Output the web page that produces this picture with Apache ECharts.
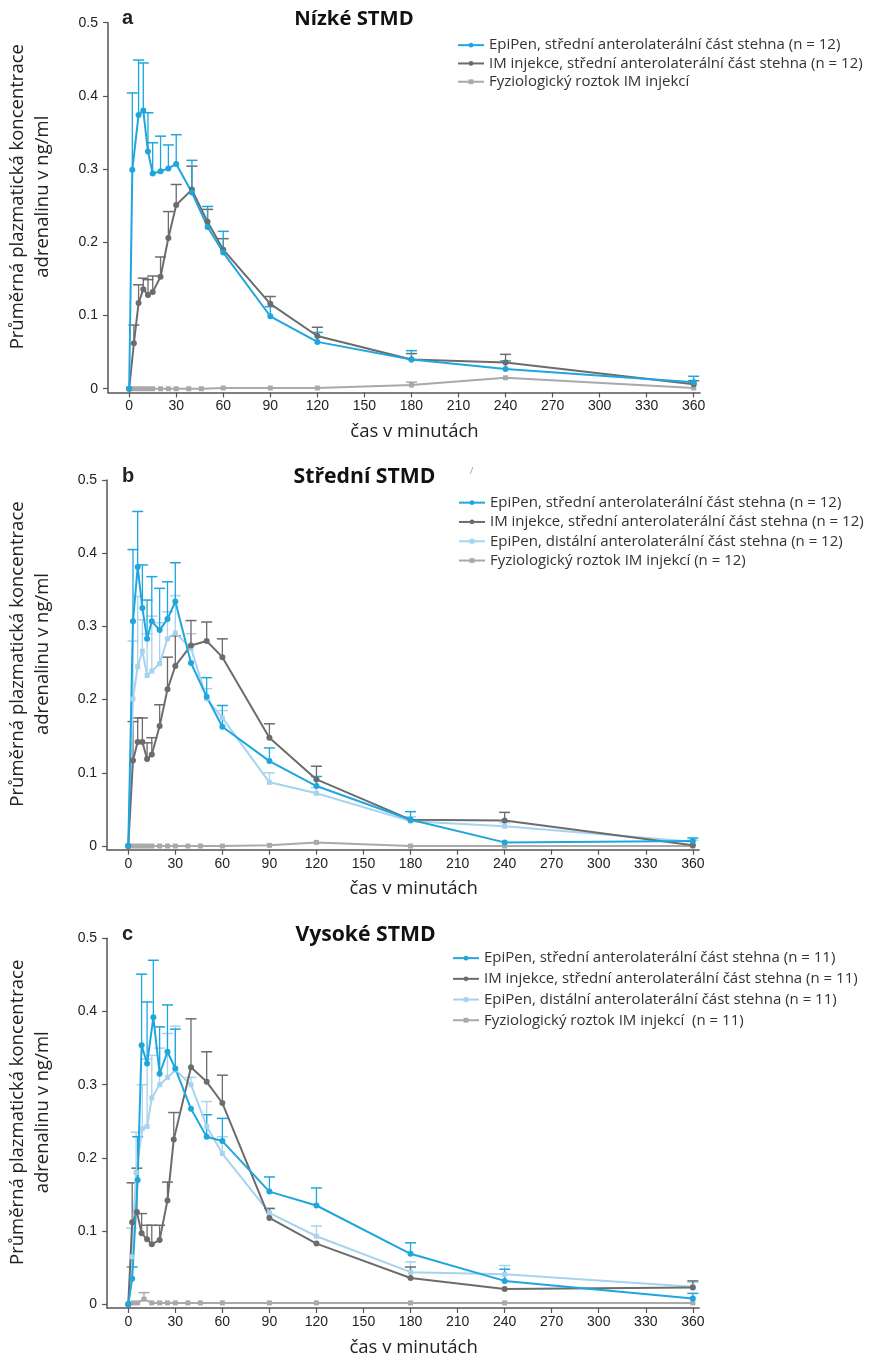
<!DOCTYPE html>
<html>
<head>
<meta charset="utf-8">
<script src="https://cdn.jsdelivr.net/npm/echarts@6/dist/echarts.min.js"></script>
<style>
  html, body { margin: 0; padding: 0; background: #fff; }
  #chart { width: 889px; height: 1356px; }
</style>
</head>
<body>
<div id="chart"></div>
<script>
(function () {
  var xTicks = [0, 30, 60, 90, 120, 150, 180, 210, 240, 270, 300, 330, 360];
  var yTicks = [0, 0.1, 0.2, 0.3, 0.4, 0.5];

  // panel a - Nizke STMD
  var aEpiT = [0, 2, 6, 9, 12, 15, 20, 25, 30, 40, 50, 60, 90, 120, 180, 240, 360];
  var aEpi = [0, 0.299, 0.374, 0.380, 0.324, 0.294, 0.297, 0.301, 0.307, 0.268, 0.221, 0.186, 0.099, 0.064, 0.040, 0.027, 0.009];
  var aEpiErr = [null, 0.404, 0.449, 0.445, 0.377, 0.336, 0.345, 0.333, 0.347, 0.312, 0.249, 0.215, 0.112, 0.077, 0.052, 0.038, 0.017];
  var aImT = [0, 3, 6, 9, 12, 15, 20, 25, 30, 40, 50, 60, 90, 120, 180, 240, 360];
  var aIm = [0, 0.062, 0.117, 0.136, 0.128, 0.132, 0.153, 0.206, 0.251, 0.272, 0.228, 0.190, 0.116, 0.072, 0.040, 0.036, 0.006];
  var aImErr = [null, 0.087, 0.142, 0.151, 0.149, 0.154, 0.180, 0.242, 0.279, 0.304, 0.245, 0.205, 0.126, 0.084, 0.048, 0.047, 0.011];
  var aPlT = [0, 3, 6, 9, 12, 15, 20, 25, 30, 38, 46, 60, 90, 120, 180, 240, 360];
  var aPl = [0, 0, 0, 0, 0, 0, 0, 0, 0, 0, 0, 0.001, 0.001, 0.001, 0.005, 0.015, 0.001];
  var aPlErr = [null, null, null, null, null, null, null, null, null, null, null, null, null, null, 0.009, null, null];

  // panel b - Stredni STMD
  var bT = [0, 3, 6, 9, 12, 15, 20, 25, 30, 40, 50, 60, 90, 120, 180, 240, 360];
  var bEpi = [0, 0.307, 0.381, 0.325, 0.283, 0.307, 0.295, 0.310, 0.334, 0.250, 0.204, 0.163, 0.116, 0.082, 0.036, 0.005, 0.007];
  var bEpiErr = [null, 0.405, 0.457, 0.384, 0.336, 0.368, 0.352, 0.361, 0.387, null, 0.230, 0.192, 0.134, 0.095, 0.047, null, 0.011];
  var bIm = [0, 0.117, 0.142, 0.142, 0.119, 0.125, 0.164, 0.214, 0.246, 0.274, 0.280, 0.258, 0.148, 0.091, 0.036, 0.035, 0.001];
  var bImErr = [null, 0.170, 0.175, 0.175, 0.141, 0.148, 0.193, 0.258, 0.287, 0.308, 0.306, 0.283, 0.167, 0.109, null, 0.046, null];
  var bDist = [0, 0.201, 0.245, 0.266, 0.233, 0.239, 0.249, 0.283, 0.291, 0.270, 0.201, 0.175, 0.087, 0.072, 0.034, 0.027, 0.006];
  var bDistErr = [null, 0.280, 0.341, 0.309, 0.290, 0.314, 0.305, 0.320, 0.342, 0.290, 0.215, 0.185, 0.100, 0.080, 0.040, 0.032, 0.008];
  var bPlT = [0, 3, 6, 9, 12, 15, 20, 25, 30, 38, 46, 60, 90, 120, 180, 240, 360];
  var bPl = [0, 0, 0, 0, 0, 0, 0, 0, 0, 0, 0, 0, 0.001, 0.005, 0, 0, 0];

  // panel c - Vysoke STMD
  var cEpiT = [0, 2.5, 6, 8.5, 12, 16, 20, 25, 30, 40, 50, 60, 90, 120, 180, 240, 360];
  var cEpi = [0, 0.035, 0.170, 0.354, 0.329, 0.392, 0.315, 0.345, 0.322, 0.267, 0.229, 0.223, 0.154, 0.135, 0.069, 0.032, 0.008];
  var cEpiErr = [null, 0.051, 0.229, 0.451, 0.413, 0.470, 0.379, 0.409, 0.376, null, 0.259, 0.254, 0.174, 0.159, 0.084, 0.048, 0.015];
  var cImT = [0, 2.5, 5.5, 8.5, 12, 15, 20, 25, 29, 40, 50, 60, 90, 120, 180, 240, 360];
  var cIm = [0, 0.112, 0.126, 0.097, 0.089, 0.082, 0.088, 0.142, 0.225, 0.324, 0.304, 0.275, 0.118, 0.083, 0.036, 0.021, 0.023];
  var cImErr = [null, 0.166, 0.186, 0.124, 0.108, 0.108, 0.108, 0.167, 0.262, 0.390, 0.345, 0.313, 0.131, null, 0.051, null, 0.032];
  var cDistT = [0, 2, 5, 9, 12, 15, 20, 25, 30, 40, 50, 60, 90, 120, 180, 240, 360];
  var cDist = [0, 0.065, 0.180, 0.240, 0.243, 0.282, 0.300, 0.310, 0.320, 0.300, 0.243, 0.206, 0.125, 0.093, 0.044, 0.041, 0.024];
  var cDistErr = [null, 0.104, 0.235, 0.300, 0.335, 0.340, 0.350, 0.370, 0.380, 0.310, 0.277, 0.229, 0.131, 0.107, 0.058, 0.053, 0.030];
  var cPlT = [0, 3, 6, 10, 15, 20, 25, 30, 38, 46, 60, 90, 120, 180, 240, 360];
  var cPl = [0, 0.002, 0.002, 0.007, 0.002, 0.002, 0.002, 0.002, 0.002, 0.002, 0.002, 0.002, 0.002, 0.002, 0.002, 0.002];
  var cPlErr = [null, null, null, 0.016, null, null, null, null, null, null, null, null, null, null, null, null];

  var BLUE = '#1fa6dd';
  var GRAY = '#6c6c6c';
  var LIGHT = '#a6d3ee';
  var PLACEBO = '#a9a9a9';
  var FONT = '"Open Sans", "Noto Sans", sans-serif';
  var AXFONT = '"Liberation Sans", Arial, sans-serif';

  var panels = [
    { top: 22.7, left: 108, title: 'Nízké STMD', titleX: 349, titleSize: 20.3, letter: 'a' },
    { top: 480, left: 107.1, title: 'Střední STMD', titleX: 359.5, titleSize: 21.2, letter: 'b' },
    { top: 938.3, left: 107.1, title: 'Vysoké STMD', titleX: 360.5, titleSize: 21.2, letter: 'c' }
  ];

  function pairs(ts, vs) {
    return ts.map(function (t, i) { return [t, vs[i]]; });
  }
  function errs(ts, vs, tops) {
    var out = [];
    ts.forEach(function (t, i) {
      if (tops[i] != null) out.push([t, vs[i], tops[i]]);
    });
    return out;
  }

  var grids = [], xAxes = [], yAxes = [], series = [], titles = [], legends = [], graphics = [];

  panels.forEach(function (p, k) {
    grids.push({ left: p.left, top: p.top, width: 592, height: 369.7, outerBoundsMode: 'none' });
    xAxes.push({
      type: 'value', gridIndex: k, min: -13.5, max: 364,
      name: 'čas v minutách', nameLocation: 'middle', nameGap: 30,
      nameTextStyle: { fontFamily: FONT, fontSize: 18.5, color: '#222', padding: [0, 0, 0, 21] },
      axisLine: { onZero: false, lineStyle: { color: '#555', width: 1.5 } },
      axisTick: { customValues: xTicks, length: 5, lineStyle: { color: '#555', width: 1.2 } },
      axisLabel: { customValues: xTicks, fontFamily: AXFONT, fontSize: 14, color: '#222', margin: 7 },
      splitLine: { show: false }
    });
    yAxes.push({
      type: 'value', gridIndex: k, min: -0.005, max: 0.5,
      axisLine: { show: true, onZero: false, lineStyle: { color: '#555', width: 1.5 } },
      axisTick: { show: true, customValues: yTicks, length: 5, lineStyle: { color: '#555', width: 1.2 } },
      axisLabel: {
        customValues: yTicks, fontFamily: AXFONT, fontSize: 14, color: '#222', margin: 10,
        formatter: function (v) { return v === 0 ? '0' : v.toFixed(1); }
      },
      splitLine: { show: false }
    });
    titles.push({
      text: p.title, left: p.titleX, top: p.top - 18.8, textAlign: 'center',
      textStyle: { fontFamily: FONT, fontSize: p.titleSize, fontWeight: 'bold', color: '#111' }
    });
    titles.push({
      text: p.letter, left: 117, top: p.top - 19, padding: 5,
      textStyle: { fontFamily: AXFONT, fontSize: 20, fontWeight: 'bold', color: '#222' }
    });
    graphics.push({
      type: 'text', x: 30, y: p.top + 174, rotation: Math.PI / 2,
      style: {
        text: 'Průměrná plazmatická koncentrace\nadrenalinu v ng/ml',
        fontFamily: FONT, fontSize: 18.5, lineHeight: 25, fill: '#222',
        textAlign: 'center', textVerticalAlign: 'middle'
      }
    });
  });

  function lineSeries(k, name, data, color, symbol) {
    series.push({
      type: 'line', name: name, xAxisIndex: k, yAxisIndex: k, data: data,
      symbol: symbol, symbolSize: symbol === 'rect' ? 5 : 6,
      lineStyle: { color: color, width: 2 },
      itemStyle: { color: color },
      z: 3
    });
  }
  function errSeries(k, data, color) {
    series.push({
      type: 'custom', name: 'err' + k + color, xAxisIndex: k, yAxisIndex: k,
      data: data, encode: { x: 0, y: [1, 2] }, z: 2,
      renderItem: function (params, api) {
        var a = api.coord([api.value(0), api.value(1)]);
        var b = api.coord([api.value(0), api.value(2)]);
        return {
          type: 'group', children: [
            { type: 'line', shape: { x1: a[0], y1: a[1], x2: b[0], y2: b[1] }, style: { stroke: color, lineWidth: 1.3 } },
            { type: 'line', shape: { x1: b[0] - 5.5, y1: b[1], x2: b[0] + 5.5, y2: b[1] }, style: { stroke: color, lineWidth: 1.5 } }
          ]
        };
      }
    });
  }

  var aNames = ['EpiPen, střední anterolaterální část stehna (n = 12)', 'IM injekce, střední anterolaterální část stehna (n = 12)', 'Fyziologický roztok IM injekcí'];
  var bNames = ['EpiPen, střední anterolaterální část stehna (n = 12) ', 'IM injekce, střední anterolaterální část stehna (n = 12) ', 'EpiPen, distální anterolaterální část stehna (n = 12)', 'Fyziologický roztok IM injekcí (n = 12)'];
  var cNames = ['EpiPen, střední anterolaterální část stehna (n = 11)', 'IM injekce, střední anterolaterální část stehna (n = 11)', 'EpiPen, distální anterolaterální část stehna (n = 11)', 'Fyziologický roztok IM injekcí  (n = 11)'];

  // panel a
  errSeries(0, errs(aPlT, aPl, aPlErr), PLACEBO);
  errSeries(0, errs(aImT, aIm, aImErr), GRAY);
  errSeries(0, errs(aEpiT, aEpi, aEpiErr), BLUE);
  lineSeries(0, aNames[2], pairs(aPlT, aPl), PLACEBO, 'rect');
  lineSeries(0, aNames[1], pairs(aImT, aIm), GRAY, 'circle');
  lineSeries(0, aNames[0], pairs(aEpiT, aEpi), BLUE, 'circle');

  // panel b
  errSeries(1, errs(bT, bDist, bDistErr), LIGHT);
  errSeries(1, errs(bT, bIm, bImErr), GRAY);
  errSeries(1, errs(bT, bEpi, bEpiErr), BLUE);
  lineSeries(1, bNames[3], pairs(bPlT, bPl), PLACEBO, 'rect');
  lineSeries(1, bNames[2], pairs(bT, bDist), LIGHT, 'rect');
  lineSeries(1, bNames[1], pairs(bT, bIm), GRAY, 'circle');
  lineSeries(1, bNames[0], pairs(bT, bEpi), BLUE, 'circle');

  // panel c
  errSeries(2, errs(cPlT, cPl, cPlErr), PLACEBO);
  errSeries(2, errs(cDistT, cDist, cDistErr), LIGHT);
  errSeries(2, errs(cImT, cIm, cImErr), GRAY);
  errSeries(2, errs(cEpiT, cEpi, cEpiErr), BLUE);
  lineSeries(2, cNames[3], pairs(cPlT, cPl), PLACEBO, 'rect');
  lineSeries(2, cNames[2], pairs(cDistT, cDist), LIGHT, 'rect');
  lineSeries(2, cNames[1], pairs(cImT, cIm), GRAY, 'circle');
  lineSeries(2, cNames[0], pairs(cEpiT, cEpi), BLUE, 'circle');

  function legend(names, left, top, rowH) {
    return {
      orient: 'vertical', left: left, top: top, data: names, padding: 0,
      itemWidth: 26, itemHeight: 6, itemGap: 0, selectedMode: false,
      textStyle: { fontFamily: FONT, fontSize: 15, color: '#333', lineHeight: rowH, height: rowH }
    };
  }
  legends.push(legend(aNames, 457, 36, 18.3));
  legends.push(legend(bNames, 458, 493, 19.3));
  legends.push(legend(cNames, 452, 947.8, 20.7));

  graphics.push({ type: 'text', x: 470, y: 467, style: { text: '/', fontSize: 9, fill: '#999', fontFamily: FONT } });

  var chart = echarts.init(document.getElementById('chart'), null, { renderer: 'canvas' });
  chart.setOption({
    animation: false,
    backgroundColor: '#fff',
    title: titles,
    legend: legends,
    grid: grids,
    xAxis: xAxes,
    yAxis: yAxes,
    graphic: graphics,
    series: series
  });
})();
</script>
</body>
</html>
